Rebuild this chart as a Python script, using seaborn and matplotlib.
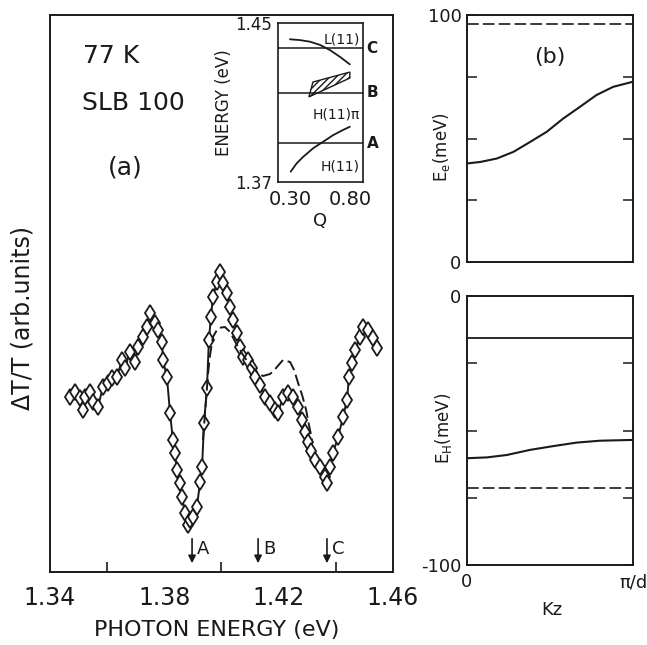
import matplotlib
matplotlib.use("Agg")
import matplotlib.pyplot as plt
import seaborn as sns

sns.set_theme(style="white")
plt.rcParams["font.family"] = ["DejaVu Sans"]
plt.rcParams["hatch.linewidth"] = 1.0
plt.rcParams["text.color"] = "k"
plt.rcParams["axes.labelcolor"] = "k"
plt.rcParams["xtick.color"] = "k"
plt.rcParams["ytick.color"] = "k"

# ---- panel (a): modulated transmission, 77 K, SLB 100 ----
energy = [1.3470, 1.3487, 1.3505, 1.3515, 1.3522, 1.3540, 1.3550, 1.3568, 1.3585,
          1.3603, 1.3617, 1.3634, 1.3652, 1.3662, 1.3680, 1.3697, 1.3708, 1.3725,
          1.3739, 1.3750, 1.3767, 1.3778, 1.3792, 1.3795, 1.3809, 1.3820, 1.3830,
          1.3837, 1.3844, 1.3855, 1.3862, 1.3872, 1.3883, 1.3890, 1.3900, 1.3914,
          1.3925, 1.3932, 1.3939, 1.3949, 1.3956, 1.3963, 1.3970, 1.3984, 1.3995,
          1.4005, 1.4019, 1.4030, 1.4040, 1.4054, 1.4065, 1.4075, 1.4093, 1.4107,
          1.4117, 1.4135, 1.4152, 1.4170, 1.4187, 1.4198, 1.4215, 1.4233, 1.4250,
          1.4268, 1.4282, 1.4292, 1.4303, 1.4313, 1.4327, 1.4345, 1.4362, 1.4369,
          1.4380, 1.4390, 1.4408, 1.4425, 1.4439, 1.4446, 1.4457, 1.4467, 1.4485,
          1.4495, 1.4513, 1.4530, 1.4544]
signal = [17.5, 18.0, 17.4, 16.2, 17.5, 18.0, 17.0, 16.5, 18.5,
          18.9, 19.4, 19.5, 21.2, 20.4, 22.0, 21.0, 22.5, 23.5,
          24.5, 25.9, 24.9, 24.2, 23.0, 21.2, 19.5, 15.9, 13.2,
          11.9, 10.2, 8.9, 7.5, 5.9, 4.7, 5.2, 5.5, 6.5,
          9.0, 10.5, 14.9, 18.4, 23.2, 25.5, 27.5, 29.0, 30.0,
          28.9, 27.9, 26.5, 25.2, 23.9, 22.5, 21.5, 21.2, 20.4,
          19.5, 18.7, 17.5, 16.9, 16.2, 15.9, 17.5, 17.9, 17.5,
          16.5, 15.2, 14.0, 13.0, 12.1, 11.2, 10.5, 9.5, 8.9,
          10.5, 11.9, 13.5, 15.5, 17.2, 19.5, 20.9, 22.2, 23.5,
          24.5, 24.2, 23.4, 22.4]

# calculated line-shape, where it departs from the data
calc_energy = [1.3935, 1.3946, 1.3953, 1.3960, 1.3970, 1.3988, 1.4012, 1.4030,
               1.4054, 1.4082, 1.4124, 1.4145, 1.4170, 1.4191, 1.4215, 1.4240,
               1.4254, 1.4268, 1.4282, 1.4296, 1.4306, 1.4317]
calc_signal = [13.2, 17.2, 19.9, 21.7, 23.5, 24.4, 24.5, 24.0,
               22.7, 21.4, 20.0, 19.6, 19.8, 20.4, 21.2, 21.0,
               20.2, 18.9, 17.7, 16.2, 14.7, 13.2]

transitions = ["A", "B", "C"]
transition_energy = [1.3897, 1.4128, 1.4369]

# ---- inset: transition energies vs Q ----
inset_levels = [1.3896, 1.4148, 1.4374]
l11_q = [0.30, 0.383, 0.467, 0.55, 0.633, 0.717, 0.80]
l11_e = [1.4418, 1.4414, 1.4406, 1.4390, 1.4364, 1.4330, 1.4292]
h11_q = [0.306, 0.356, 0.411, 0.494, 0.578, 0.661, 0.744, 0.80]
h11_e = [1.3752, 1.3794, 1.3827, 1.3870, 1.3903, 1.3936, 1.3962, 1.3978]
band_q = [0.458, 0.492, 0.80, 0.80]
band_e = [1.4128, 1.4203, 1.4253, 1.4223]

# ---- panel (b): subband dispersion along kz ----
kz_e = [0.0, 0.08, 0.18, 0.28, 0.38, 0.48, 0.58, 0.68, 0.78, 0.88, 1.0]
ee = [39.9, 40.5, 41.9, 44.6, 48.6, 52.7, 58.1, 62.8, 67.6, 70.9, 73.0]
ee_barrier = 96.4
kz_h = [0.0, 0.12, 0.24, 0.38, 0.52, 0.66, 0.80, 1.0]
eh = [-60.3, -60.0, -59.1, -57.2, -55.8, -54.5, -53.8, -53.5]
eh_upper = -15.7
eh_barrier = -71.5

W, H = 647, 645
fig = plt.figure(figsize=(W / 100, H / 100), dpi=100)


def box(x0, y0, x1, y1):
    # pixel box (top-left origin) -> figure fraction
    return [x0 / W, 1 - y1 / H, (x1 - x0) / W, (y1 - y0) / H]


# ===================== panel (a) =====================
ax = fig.add_axes(box(50, 15, 393, 572))
sns.lineplot(x=energy, y=signal, ax=ax, color="k", lw=1.4, marker="d",
             markersize=8.5, markerfacecolor="white", markeredgecolor="k",
             markeredgewidth=1.3)
sns.lineplot(x=calc_energy, y=calc_signal, ax=ax, color="k", lw=1.4,
             linestyle=(0, (6, 2.5)))
ax.set_xlim(1.34, 1.46)
ax.set_ylim(0, 55.7)
ax.set_yticks([])
ax.set_xticks([1.34, 1.38, 1.42, 1.46])
ax.set_xticklabels(["1.34", "1.38", "1.42", "1.46"])
ax.set_xticks([1.36, 1.40, 1.44], minor=True)
ax.tick_params(axis="x", which="major", direction="in", length=13, width=1.2,
               labelsize=17, pad=10, color="k")
ax.tick_params(axis="x", which="minor", direction="in", length=7, width=1.2,
               color="k", bottom=True)
for s in ax.spines.values():
    s.set_color("k")
    s.set_linewidth(1.4)
for name, e in zip(transitions, transition_energy):
    ax.annotate("", xy=(e, 0.6), xytext=(e, 3.6),
                arrowprops=dict(arrowstyle="-|>", color="k", lw=1.2,
                                mutation_scale=11))
    ax.text(e + 0.0018, 2.3, name, fontsize=13, ha="left", va="center")

fig.text(83 / W, 1 - 56 / H, "77 K", fontsize=18, ha="left", va="center")
fig.text(82 / W, 1 - 103 / H, "SLB 100", fontsize=18, ha="left", va="center")
fig.text(125 / W, 1 - 168 / H, "(a)", fontsize=18, ha="center", va="center")
fig.text(23 / W, 1 - 318 / H, "ΔT/T (arb.units)", fontsize=17,
         rotation=90, ha="center", va="center")
fig.text(217 / W, 1 - 630 / H, "PHOTON ENERGY (eV)", fontsize=16,
         ha="center", va="center")

# ===================== inset =====================
ins = fig.add_axes(box(278, 23, 363, 182))
for lev in inset_levels:
    ins.axhline(lev, color="k", lw=1.1)
sns.lineplot(x=l11_q, y=l11_e, ax=ins, color="k", lw=1.3)
sns.lineplot(x=h11_q, y=h11_e, ax=ins, color="k", lw=1.3)
ins.fill(band_q, band_e, facecolor="white", edgecolor="k", hatch="/////",
         lw=1.0)
ins.set_xlim(0.2, 0.91)
ins.set_ylim(1.37, 1.45)
ins.set_xticks([0.30, 0.80])
ins.set_xticklabels(["0.30", "0.80"])
ins.set_yticks([1.37, 1.45])
ins.set_yticklabels(["1.37", "1.45"])
ins.tick_params(axis="x", direction="in", length=6, width=1.1, labelsize=14,
                pad=6, color="k")
ins.tick_params(axis="y", length=0, labelsize=12, pad=4)
for s in ins.spines.values():
    s.set_color("k")
    s.set_linewidth(1.2)
ins.set_xlabel("Q", fontsize=13, labelpad=2)
ins.set_ylabel("ENERGY (eV)", fontsize=12, labelpad=2)
ins.text(0.885, 1.4418, "L(11)", fontsize=10, ha="right", va="center")
ins.text(0.885, 1.4040, "H(11)π", fontsize=10, ha="right", va="center")
ins.text(0.885, 1.3778, "H(11)", fontsize=10, ha="right", va="center")
for name, lev in zip(["A", "B", "C"], inset_levels):
    ins.text(0.94, lev, name, fontsize=11, ha="left", va="center",
             fontweight="bold")

# ===================== panel (b) top: electrons =====================
axe = fig.add_axes(box(467, 15, 633, 262))
sns.lineplot(x=kz_e, y=ee, ax=axe, color="k", lw=1.5)
axe.axhline(ee_barrier, color="k", lw=1.2, linestyle=(0, (7, 2.5)))
axe.set_xlim(0, 1)
axe.set_ylim(0, 100)
axe.set_xticks([])
axe.set_yticks([0, 25, 50, 75, 100])
axe.set_yticklabels(["0", "", "", "", "100"])
axe.tick_params(axis="y", direction="in", length=7, width=1.1, labelsize=13,
                left=True, right=True, pad=4, color="k")
for s in axe.spines.values():
    s.set_color("k")
    s.set_linewidth(1.4)
axe.text(0.5, 0.83, "(b)", transform=axe.transAxes, fontsize=16,
         ha="center", va="center")
fig.text(441 / W, 1 - 147 / H, "E$_\\mathrm{e}$(meV)", fontsize=12,
         rotation=90, ha="center", va="center")

# ===================== panel (b) bottom: holes =====================
axh = fig.add_axes(box(467, 296, 633, 565))
sns.lineplot(x=kz_h, y=eh, ax=axh, color="k", lw=1.5)
axh.axhline(eh_upper, color="k", lw=1.3)
axh.axhline(eh_barrier, color="k", lw=1.2, linestyle=(0, (7, 2.5)))
axh.set_xlim(0, 1)
axh.set_ylim(-100, 0)
axh.set_xticks([0, 1])
axh.set_xticklabels(["0", "π/d"])
axh.tick_params(axis="x", length=0, labelsize=13, pad=6)
axh.set_yticks([-100, -75, -50, -25, 0])
axh.set_yticklabels(["-100", "", "", "", "0"])
axh.tick_params(axis="y", direction="in", length=7, width=1.1, labelsize=13,
                left=True, right=True, pad=4, color="k")
for s in axh.spines.values():
    s.set_color("k")
    s.set_linewidth(1.4)
fig.text(552 / W, 1 - 610 / H, "Kz", fontsize=13, ha="center", va="center")
fig.text(443 / W, 1 - 428 / H, "E$_\\mathrm{H}$(meV)", fontsize=12,
         rotation=90, ha="center", va="center")

fig.savefig("out.png", dpi=100)
